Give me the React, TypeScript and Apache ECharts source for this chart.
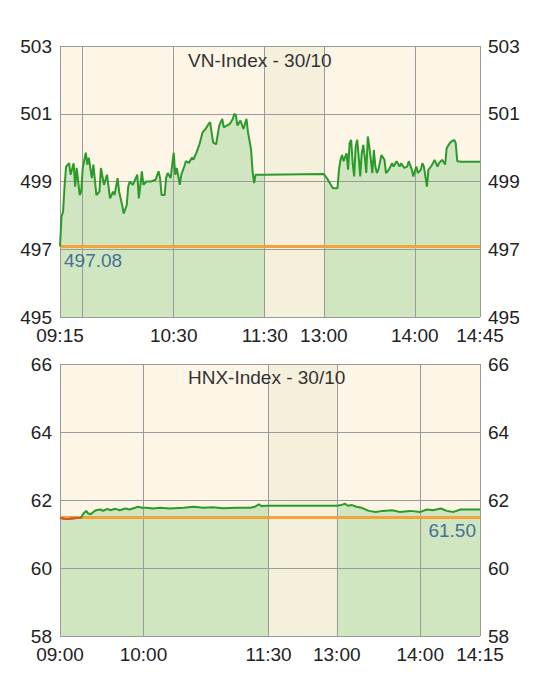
import React, { useEffect, useRef } from "react";
import * as echarts from "echarts";

// ---------- data ----------
const vnTitle = "VN-Index - 30/10";
const vnRef = 497.08;
const vnYMin = 495;
const vnYMax = 503;
const vnYStep = 2;
// the last label of each time axis sits at the axis end
const vnXLabels = ["09:15", "10:30", "11:30", "13:00", "14:00", "14:45"];
const vnGridTimes = ["09:30", "10:30", "11:30", "13:00", "14:00"];
const vnTimes = [
  "09:15", "09:16", "09:17", "09:18", "09:19", "09:21", "09:22", "09:24", "09:25", "09:26",
  "09:28", "09:29", "09:30", "09:32", "09:33", "09:34", "09:36", "09:37", "09:39", "09:41",
  "09:42", "09:44", "09:46", "09:48", "09:50", "09:51", "09:53", "09:54", "09:56", "09:57",
  "09:59", "10:00", "10:01", "10:03", "10:04", "10:06", "10:07", "10:09", "10:10", "10:12",
  "10:15", "10:18", "10:20", "10:21", "10:22", "10:24", "10:25", "10:26", "10:28", "10:29",
  "10:30", "10:31", "10:32", "10:34", "10:35", "10:37", "10:38", "10:40", "10:42", "10:43",
  "10:45", "10:47", "10:49", "10:51", "10:53", "10:54", "10:56", "10:58", "11:00", "11:02",
  "11:03", "11:05", "11:07", "11:09", "11:10", "11:11", "11:12", "11:14", "11:16", "11:18",
  "11:19", "11:21", "11:22", "11:23", "11:24", "11:26", "11:30",
  "13:00", "13:02", "13:04", "13:06", "13:09", "13:10", "13:11", "13:12", "13:13", "13:15",
  "13:16", "13:17", "13:18", "13:19", "13:20", "13:21", "13:22", "13:23", "13:24", "13:25",
  "13:26", "13:27", "13:28", "13:29", "13:30", "13:32", "13:33", "13:34", "13:35", "13:36",
  "13:38", "13:40", "13:41", "13:43", "13:45", "13:46", "13:48", "13:50", "13:51", "13:53",
  "13:55", "13:56", "13:58", "13:59", "14:01", "14:02", "14:04", "14:05", "14:06", "14:08",
  "14:09", "14:10", "14:12", "14:13", "14:15", "14:16", "14:18", "14:20", "14:21", "14:23",
  "14:24", "14:26", "14:27", "14:28", "14:31", "14:43",
];
const vnValues = [
  497.08, 497.97, 498.1, 498.85, 499.44, 499.54, 499.2, 499.54, 498.85, 499.4,
  498.6, 498.7, 499.4, 499.85, 499.5, 499.7, 499.1, 499.5, 498.6, 498.7,
  499.4, 498.9, 499.2, 498.5, 498.7, 498.6, 499.1, 498.7, 498.3, 498.05,
  498.3, 498.85, 499.0, 498.9, 499.0, 499.2, 498.5, 499.3, 498.9, 499.0,
  499.0, 499.05, 499.3, 499.1, 498.6, 498.6, 499.1, 499.25, 499.1, 499.5,
  499.85, 499.2, 499.4, 498.9, 499.2, 499.45, 499.6, 499.55, 499.7, 499.65,
  499.85, 500.1, 500.45, 500.55, 500.7, 500.75, 500.15, 500.1, 500.65, 500.85,
  500.6, 500.65, 500.7, 500.85, 501.0, 500.95, 500.65, 500.8, 500.55, 500.85,
  500.45, 499.95, 499.3, 498.95, 499.2, 499.2, 499.2,
  499.22, 499.1, 498.95, 498.8, 498.8, 499.35, 499.64, 499.78, 499.6, 499.83,
  499.35, 500.13, 500.23, 499.55, 499.15, 500.03, 500.23, 499.73, 499.15, 499.83,
  500.08, 499.73, 499.25, 500.33, 500.03, 499.25, 499.93, 499.44, 499.25, 499.35,
  499.78, 499.64, 499.25, 499.35, 499.54, 499.44, 499.6, 499.44, 499.54, 499.4,
  499.44, 499.6, 499.35, 499.15, 499.44, 499.25, 499.35, 499.54, 499.44, 498.85,
  499.35, 499.4, 499.54, 499.64, 499.44, 499.54, 499.64, 499.5, 499.98, 500.13,
  500.18, 500.23, 500.13, 499.6, 499.58, 499.58,
];

const hnxTitle = "HNX-Index - 30/10";
const hnxRef = 61.5;
const hnxYMin = 58;
const hnxYMax = 66;
const hnxYStep = 2;
const hnxXLabels = ["09:00", "10:00", "11:30", "13:00", "14:00", "14:15"];
const hnxGridTimes = ["10:00", "11:30", "13:00", "14:00"];
const hnxTimes = [
  "09:00", "09:03", "09:06", "09:10", "09:15", "09:17", "09:19", "09:20", "09:22", "09:24",
  "09:26", "09:29", "09:31", "09:34", "09:36", "09:40", "09:43", "09:47", "09:50", "09:54",
  "09:56", "09:59", "10:02", "10:07", "10:12", "10:19", "10:29", "10:36", "10:43", "10:50",
  "10:57", "11:07", "11:17", "11:20", "11:23", "11:25", "11:29", "11:30",
  "13:00", "13:03", "13:06", "13:08", "13:11", "13:14", "13:18", "13:23", "13:28", "13:33",
  "13:40", "13:45", "13:53", "14:00", "14:05", "14:09", "14:15", "14:19", "14:24", "14:29",
  "14:43",
];
const hnxValues = [
  61.48, 61.45, 61.44, 61.46, 61.48, 61.61, 61.68, 61.61, 61.58, 61.65,
  61.7, 61.72, 61.68, 61.74, 61.7, 61.74, 61.7, 61.75, 61.72, 61.77,
  61.8, 61.77, 61.77, 61.75, 61.77, 61.75, 61.77, 61.8, 61.77, 61.79,
  61.76, 61.77, 61.77, 61.8, 61.87, 61.82, 61.83, 61.83,
  61.83, 61.85, 61.89, 61.83, 61.85, 61.8, 61.77, 61.68, 61.65, 61.68,
  61.7, 61.65, 61.68, 61.65, 61.72, 61.7, 61.75, 61.68, 61.65, 61.72,
  61.72,
];

// ---------- styles ----------
const FONT = "'Liberation Sans', Arial, Helvetica, sans-serif";
const COL = {
  bg: "#fdf5e6",
  band: "#f5f0dc",
  fill: "#cfe6c0",
  line: "#2b9a2b",
  ref: "#f2a33a",
  grid: "#9a9a9a",
  text: "#222222",
  title: "#333333",
  refText: "#4a6f96",
  red: "#e5532b",
};

const toMin = (t: string) => {
  const [h, m] = t.split(":").map(Number);
  return h * 60 + m;
};

type Cfg = {
  title: string;
  times: string[];
  values: number[];
  ref: number;
  refLabelPos: string;
  yMin: number;
  yMax: number;
  yStep: number;
  xLabels: string[];
  gridTimes: string[];
  open: string;
  lunchStart: string;
  lunchEnd: string;
  gap: number;
  end: string;
  redUntil?: string;
  top: number;
  height: number;
  titleTop: number;
};

function build(cfg: Cfg, gi: number) {
  const o = toMin(cfg.open);
  const a = toMin(cfg.lunchStart);
  const b = toMin(cfg.lunchEnd);
  const toX = (t: string) => {
    const m = toMin(t);
    if (m <= a) return m - o;
    if (m >= b) return a - o + cfg.gap + (m - b);
    return a - o + (cfg.gap * (m - a)) / (b - a);
  };
  const xMax = toX(cfg.end);
  const pts = cfg.times.map((t, i) => [toX(t), cfg.values[i]]);
  const morning = pts.filter((_, i) => toMin(cfg.times[i]) <= a);
  const afternoon = pts.filter((_, i) => toMin(cfg.times[i]) >= b);
  const last = cfg.xLabels.length - 1;
  const labelXs = cfg.xLabels.map((t, i) => (i === last ? xMax : Math.min(toX(t), xMax)));
  const yVals: number[] = [];
  for (let v = cfg.yMin; v <= cfg.yMax + 1e-9; v += cfg.yStep) yVals.push(v);

  const xAxis = {
    gridIndex: gi,
    type: "value",
    min: 0,
    max: xMax,
    axisLine: { show: false },
    axisTick: { show: false },
    splitLine: { show: false },
    axisLabel: {
      customValues: labelXs,
      interval: 0,
      hideOverlap: false,
      formatter: (v: number) => {
        const i = labelXs.findIndex((x) => Math.abs(x - v) < 1e-6);
        return i >= 0 ? cfg.xLabels[i] : "";
      },
      fontSize: 19,
      color: COL.text,
      fontFamily: FONT,
      margin: 9,
      showMinLabel: true,
      showMaxLabel: true,
    },
  };
  const yAxisBase = {
    gridIndex: gi,
    type: "value",
    min: cfg.yMin,
    max: cfg.yMax,
    interval: cfg.yStep,
    axisLine: { show: false },
    axisTick: { show: false },
    splitLine: { show: false },
    axisLabel: { fontSize: 19, color: COL.text, fontFamily: FONT, margin: 8 },
  };
  const yAxes = [
    { ...yAxisBase, position: "left" },
    { ...yAxisBase, position: "right" },
  ];
  const xi = gi;
  const yi = gi * 2;
  const common = {
    type: "line",
    xAxisIndex: xi,
    yAxisIndex: yi,
    showSymbol: false,
    symbol: "none",
    silent: true,
  };
  const gridLineData = [
    ...[0, ...cfg.gridTimes.map(toX), xMax].map((x) => ({ xAxis: x })),
    ...yVals.map((y) => ({ yAxis: y })),
  ];
  const series: any[] = [
    {
      ...common,
      name: "band",
      z: 1,
      data: pts,
      lineStyle: { opacity: 0, width: 0 },
      markArea: {
        silent: true,
        itemStyle: { color: COL.band },
        data: [[{ xAxis: toX(cfg.lunchStart) }, { xAxis: toX(cfg.lunchEnd) }]],
      },
    },
    {
      ...common,
      name: "am-area",
      z: 2,
      data: morning,
      lineStyle: { opacity: 0, width: 0 },
      areaStyle: { color: COL.fill, opacity: 1, origin: "start" },
    },
    {
      ...common,
      name: "pm-area",
      z: 2,
      data: afternoon,
      lineStyle: { opacity: 0, width: 0 },
      areaStyle: { color: COL.fill, opacity: 1, origin: "start" },
    },
    {
      ...common,
      name: "grid",
      z: 3,
      data: pts,
      lineStyle: { opacity: 0, width: 0 },
      markLine: {
        silent: true,
        symbol: ["none", "none"],
        label: { show: false },
        lineStyle: { color: COL.grid, width: 1, type: "solid" },
        data: gridLineData,
      },
    },
    {
      ...common,
      name: "ref",
      z: 4,
      data: pts,
      lineStyle: { opacity: 0, width: 0 },
      markLine: {
        silent: true,
        symbol: ["none", "none"],
        lineStyle: { color: COL.ref, width: 3, type: "solid" },
        label: {
          show: true,
          position: cfg.refLabelPos,
          formatter: () => cfg.ref.toFixed(2),
          color: COL.refText,
          fontSize: 19,
          fontFamily: FONT,
          distance: 4,
        },
        data: [{ yAxis: cfg.ref }],
      },
    },
    {
      ...common,
      name: "price",
      z: 5,
      data: pts,
      lineStyle: { color: COL.line, width: 2 },
    },
  ];
  if (cfg.redUntil) {
    const r = toMin(cfg.redUntil);
    series.push({
      ...common,
      name: "below",
      z: 6,
      data: pts.filter((_, i) => toMin(cfg.times[i]) <= r),
      lineStyle: { color: COL.red, width: 2 },
    });
  }
  const grid = {
    left: 60,
    top: cfg.top,
    width: 420,
    height: cfg.height,
    show: true,
    backgroundColor: COL.bg,
    borderWidth: 0,
  };
  const title = {
    text: cfg.title,
    left: 188,
    top: cfg.titleTop,
    padding: 0,
    textStyle: { fontSize: 19, fontWeight: "normal", color: COL.title, fontFamily: FONT },
  };
  return { xAxis, yAxes, series, grid, title };
}

export default function App() {
  const ref = useRef<HTMLDivElement>(null);
  useEffect(() => {
    document.body.style.margin = "0";
    if (!ref.current) return;
    const chart = echarts.init(ref.current, undefined, { renderer: "svg" });
    const vn = build(
      {
        title: vnTitle,
        times: vnTimes,
        values: vnValues,
        ref: vnRef,
        refLabelPos: "insideStartBottom",
        yMin: vnYMin,
        yMax: vnYMax,
        yStep: vnYStep,
        xLabels: vnXLabels,
        gridTimes: vnGridTimes,
        open: "09:15",
        lunchStart: "11:30",
        lunchEnd: "13:00",
        gap: 39,
        end: "14:43",
        top: 46,
        height: 271,
        titleTop: 51,
      },
      0
    );
    const hnx = build(
      {
        title: hnxTitle,
        times: hnxTimes,
        values: hnxValues,
        ref: hnxRef,
        refLabelPos: "insideEndBottom",
        yMin: hnxYMin,
        yMax: hnxYMax,
        yStep: hnxYStep,
        xLabels: hnxXLabels,
        gridTimes: hnxGridTimes,
        open: "09:00",
        lunchStart: "11:30",
        lunchEnd: "13:00",
        gap: 49,
        end: "14:43",
        redUntil: "09:15",
        top: 364,
        height: 272,
        titleTop: 368,
      },
      1
    );
    chart.setOption({
      animation: false,
      backgroundColor: "#ffffff",
      textStyle: { fontFamily: FONT },
      title: [vn.title, hnx.title],
      grid: [vn.grid, hnx.grid],
      xAxis: [vn.xAxis, hnx.xAxis],
      yAxis: [...vn.yAxes, ...hnx.yAxes],
      series: [...vn.series, ...hnx.series],
    });
    return () => chart.dispose();
  }, []);
  return <div ref={ref} style={{ width: 536, height: 684 }} />;
}
